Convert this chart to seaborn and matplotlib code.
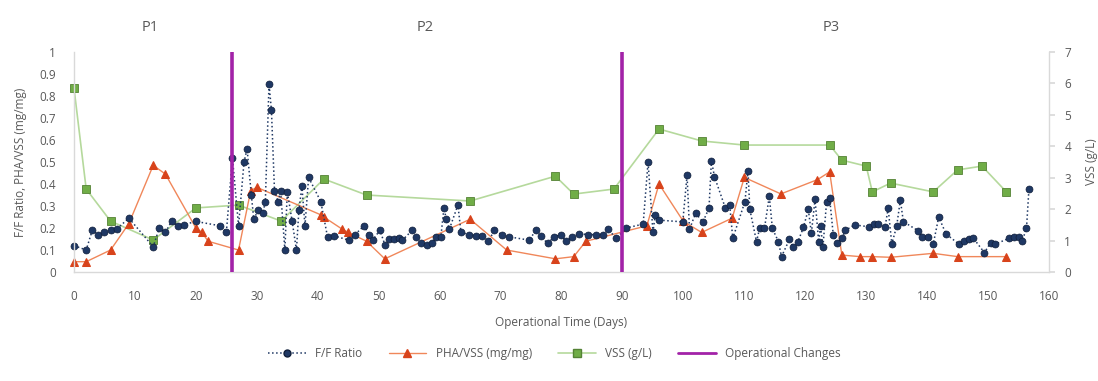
import matplotlib
matplotlib.use("Agg")
import matplotlib.pyplot as plt
import seaborn as sns
import pandas as pd
from matplotlib.lines import Line2D

# ---------------- data ----------------
ff_days = [0, 2, 3, 4, 5, 6, 7, 9, 13, 14, 15, 16, 17, 18, 20, 24, 25, 26,
           27, 27.9, 28.4, 29.1, 29.5, 30.2, 31, 31.4, 32, 32.4, 32.9, 33.5, 33.9, 34.6, 35, 35.8,
           36.5, 36.9, 37.4, 37.9, 38.5, 40.5, 41.6, 42.6, 45.1, 46.1, 47.6, 48.4, 49, 50.2, 51,
           51.7, 52.5, 53.3, 53.9, 55.5, 56.1, 56.9, 58, 58.8, 59.4, 60.2, 60.7, 61.1, 61.6, 63.0,
           63.5, 64.9, 66, 67, 68, 69, 70.2, 71.4, 74.7, 75.8, 76.6, 77.7, 78.8, 79.9, 80.7, 81.8,
           82.9, 84.3, 85.6, 86.8, 87.6, 89, 90.6,
           93.4, 94.2, 95, 95.4, 96, 99.9, 100.6, 101, 102, 103.2, 104.2, 104.6, 105.1, 106.9,
           107.6, 108.1, 110.1, 110.6, 110.9, 112, 112.5, 113.3, 114.1, 114.6, 115.6, 116.1, 117.4,
           118, 118.8, 119.7, 120.5, 121, 121.6, 122.2, 122.5, 122.9, 123.5, 124, 124.6, 125.2,
           126, 126.6, 128.1, 130.4, 131.2, 132, 133.1, 133.6, 134.2, 135, 135.6, 136.1, 138.5,
           139.2, 140.2, 141, 141.9, 143.1, 145.2, 146, 146.8, 147.6, 149.4, 150.4, 151.2, 153.4,
           154.2, 155, 155.6, 156.3, 156.7]
ff_vals = [0.12, 0.10, 0.19, 0.17, 0.18, 0.19, 0.195, 0.245, 0.115, 0.20, 0.18, 0.23, 0.21, 0.215, 0.23, 0.21, 0.18, 0.52,
           0.21, 0.50, 0.56, 0.35, 0.24, 0.28, 0.27, 0.32, 0.855, 0.735, 0.37, 0.32, 0.37, 0.10, 0.365, 0.23,
           0.10, 0.28, 0.39, 0.21, 0.43, 0.32, 0.16, 0.165, 0.145, 0.17, 0.21, 0.17, 0.145, 0.19, 0.125,
           0.15, 0.15, 0.153, 0.145, 0.19, 0.16, 0.13, 0.123, 0.13, 0.16, 0.16, 0.29, 0.24, 0.195, 0.305,
           0.18, 0.17, 0.165, 0.165, 0.14, 0.19, 0.17, 0.16, 0.145, 0.19, 0.165, 0.13, 0.16, 0.17, 0.14, 0.16,
           0.175, 0.17, 0.17, 0.17, 0.195, 0.153, 0.20,
           0.218, 0.50, 0.183, 0.26, 0.236, 0.228, 0.44, 0.194, 0.267, 0.228, 0.29, 0.506, 0.433, 0.29,
           0.305, 0.153, 0.32, 0.46, 0.285, 0.138, 0.198, 0.198, 0.345, 0.198, 0.138, 0.07, 0.148,
           0.115, 0.138, 0.203, 0.285, 0.176, 0.33, 0.138, 0.21, 0.115, 0.32, 0.335, 0.167, 0.133,
           0.153, 0.19, 0.214, 0.206, 0.218, 0.218, 0.206, 0.29, 0.127, 0.209, 0.327, 0.229, 0.188,
           0.158, 0.158, 0.127, 0.25, 0.173, 0.127, 0.142, 0.148, 0.153, 0.088, 0.133, 0.127, 0.153,
           0.158, 0.158, 0.142, 0.198, 0.376]

pha_days = [0, 2, 6, 9, 13, 15, 20, 21, 22, 27, 29, 30, 40.5, 41, 44, 45, 48, 51, 65, 71, 79, 82, 84,
            94, 96, 100, 103, 108, 110, 116, 122, 124, 126, 129, 131, 134, 141, 145, 153]
pha_vals = [0.047, 0.047, 0.10, 0.22, 0.485, 0.445, 0.20, 0.18, 0.14, 0.10, 0.37, 0.385, 0.26, 0.25,
            0.195, 0.18, 0.14, 0.06, 0.24, 0.10, 0.06, 0.07, 0.14,
            0.21, 0.40, 0.23, 0.18, 0.245, 0.43, 0.355, 0.42, 0.455, 0.077, 0.07, 0.07, 0.067, 0.085, 0.07, 0.07]

vss_days = [0, 2, 6, 13, 20, 27, 34, 41, 48, 65, 79, 82, 88.6, 96, 103, 110, 124, 126, 130, 131,
            134, 141, 145, 149, 153]
vss_vals = [5.85, 2.64, 1.62, 1.02, 2.04, 2.13, 1.62, 2.96, 2.45, 2.26, 3.05, 2.48, 2.64, 4.55, 4.17,
            4.04, 4.04, 3.56, 3.37, 2.55, 2.83, 2.55, 3.25, 3.37, 2.55]

change_days = [26, 90]
phase_labels = ["P1", "P2", "P3"]
phase_label_days = [12.5, 57.7, 124.3]

left_ticks = [0, 0.1, 0.2, 0.3, 0.4, 0.5, 0.6, 0.7, 0.8, 0.9, 1]
left_tick_labels = ["0", "0.1", "0.2", "0.3", "0.4", "0.5", "0.6", "0.7", "0.8", "0.9", "1"]
right_ticks = [0, 1, 2, 3, 4, 5, 6, 7]
x_ticks = list(range(0, 161, 10))

# ---------------- style ----------------
sns.set_theme(style="white")
plt.rcParams["font.family"] = ["Open Sans", "DejaVu Sans"]
text_col = "#595959"
spine_col = "#D9D9D9"

blue = "#1F3864"
orange_m = "#D8431B"
orange_l = "#F0875A"
green_m = "#70AD47"
green_e = "#548235"
green_l = "#B5D99C"
purple = "#A222A8"

fig = plt.figure(figsize=(10.98, 3.81), dpi=100)
ax = fig.add_axes([0.0674, 0.286, 0.888, 0.5775])
ax2 = ax.twinx()

ff_df = pd.DataFrame({"day": ff_days, "val": ff_vals})
pha_df = pd.DataFrame({"day": pha_days, "val": pha_vals})
vss_df = pd.DataFrame({"day": vss_days, "val": vss_vals})

sns.lineplot(data=vss_df, x="day", y="val", ax=ax2, color=green_l, lw=1.2, marker="s",
             markersize=6, markerfacecolor=green_m, markeredgecolor=green_e, markeredgewidth=0.6,
             sort=False, legend=False, clip_on=False)
sns.lineplot(data=pha_df, x="day", y="val", ax=ax, color=orange_l, lw=1.0, marker="^",
             markersize=6, markerfacecolor=orange_m, markeredgecolor=orange_m,
             sort=False, legend=False, clip_on=False)
sns.lineplot(data=ff_df, x="day", y="val", ax=ax, color=blue, lw=1.1, linestyle=":",
             marker="o", markersize=5, markerfacecolor=blue, markeredgecolor="#0F1E3A",
             markeredgewidth=0.5, sort=False, legend=False, clip_on=False)
ax.vlines(change_days, 0, 1, color=purple, lw=2.6, zorder=10)

ax.set_zorder(ax2.get_zorder() + 1)
ax.patch.set_visible(False)

ax.set_xlim(0, 160)
ax.set_ylim(0, 1)
ax2.set_ylim(0, 7)
ax.set_xticks(x_ticks)
ax.set_xticklabels([str(t) for t in x_ticks])
ax.set_yticks(left_ticks)
ax.set_yticklabels(left_tick_labels)
ax2.set_yticks(right_ticks)
ax2.set_yticklabels([str(t) for t in right_ticks])

for a in (ax, ax2):
    a.spines["top"].set_visible(False)
    for s in ("left", "bottom", "right"):
        a.spines[s].set_color(spine_col)
        a.spines[s].set_linewidth(1.0)
ax.spines["right"].set_visible(False)
ax2.spines["left"].set_visible(False)
ax2.spines["bottom"].set_visible(False)

ax.tick_params(axis="x", labelsize=8.5, colors=text_col, length=0, pad=13)
ax.tick_params(axis="y", labelsize=8.5, colors=text_col, length=0, pad=13)
ax2.tick_params(axis="y", labelsize=8.5, colors=text_col, length=4, color=spine_col, pad=7,
                direction="out")

ax.set_xlabel("Operational Time (Days)", fontsize=8.5, color=text_col, labelpad=9)
ax.set_ylabel("F/F Ratio, PHA/VSS (mg/mg)", fontsize=8.5, color=text_col, labelpad=9)
ax2.set_ylabel("VSS (g/L)", fontsize=8.5, color=text_col, labelpad=10)

for lbl, d in zip(phase_labels, phase_label_days):
    ax.text(d, 1.11, lbl, ha="center", va="center", fontsize=10.5, color=text_col,
            clip_on=False)

handles = [
    Line2D([], [], color=blue, lw=1.1, linestyle=":", marker="o", markersize=5,
           markerfacecolor=blue, markeredgecolor="#0F1E3A"),
    Line2D([], [], color=orange_l, lw=1.0, marker="^", markersize=6,
           markerfacecolor=orange_m, markeredgecolor=orange_m),
    Line2D([], [], color=green_l, lw=1.2, marker="s", markersize=6,
           markerfacecolor=green_m, markeredgecolor=green_e),
    Line2D([], [], color=purple, lw=2.0),
]
labels = ["F/F Ratio", "PHA/VSS (mg/mg)", "VSS (g/L)", "Operational Changes"]
fig.legend(handles, labels, loc="center", bbox_to_anchor=(0.505, 0.073), ncol=4,
           frameon=False, fontsize=8.5, handlelength=3.2, columnspacing=2.2,
           labelcolor=text_col)

fig.savefig("out.png", dpi=100)
